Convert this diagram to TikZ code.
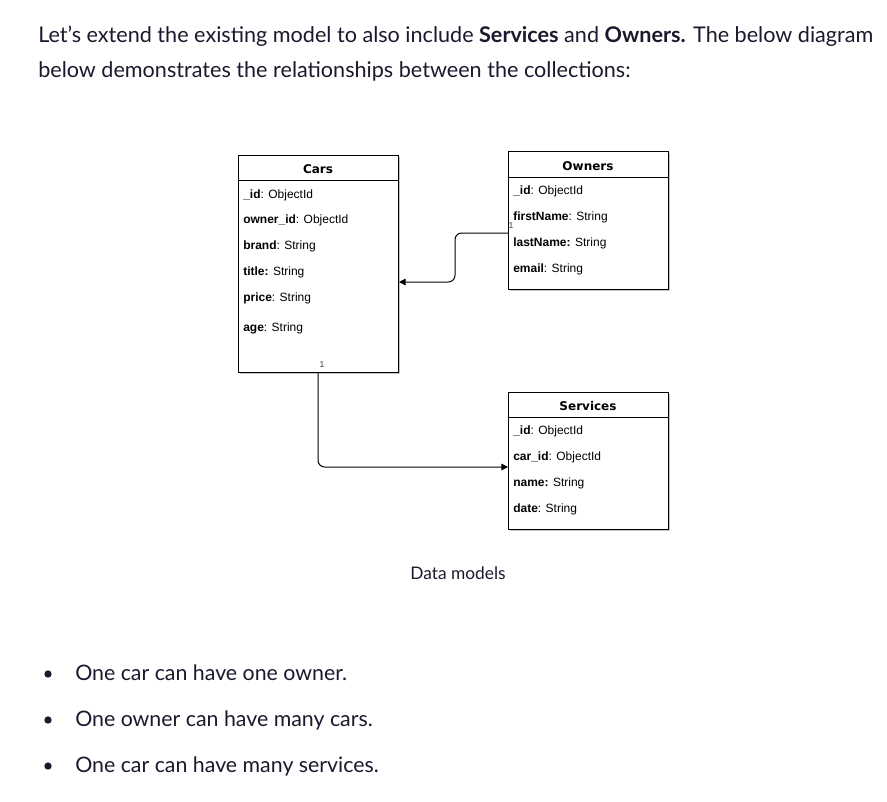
\documentclass[tikz,border=0pt]{standalone}
\usepackage{fontspec}
\setmainfont{Lato}
\newfontfamily\fieldfont{Liberation Sans}
\newfontfamily\headfont{DejaVu Sans}
\usetikzlibrary{positioning,arrows.meta,shadows}
\definecolor{ink}{HTML}{1A1A2E}
\tikzset{
  prose/.style   = {anchor=base west, inner sep=0pt, text=ink, font=\fontsize{16.2}{19}\selectfont},
  item/.style    = {anchor=base west, inner sep=0pt, text=ink, font=\fontsize{16}{19}\selectfont},
  caption/.style = {inner sep=0pt, text=ink, font=\fontsize{13}{15}\selectfont},
  table/.style   = {draw, line width=0.75pt, fill=white, minimum width=120pt,
                    drop shadow={shadow xshift=1.2pt, shadow yshift=-1.5pt, fill=black!45, opacity=0.5}},
  head/.style    = {inner sep=0pt, font=\headfont\bfseries\fontsize{9}{11}\selectfont},
  field/.style   = {anchor=west, inner sep=0pt, font=\fieldfont\fontsize{9}{11}\selectfont},
  card/.style    = {inner sep=0pt, text=black!75, font=\fieldfont\fontsize{6.5}{8}\selectfont},
  rel/.style     = {-{Triangle[length=5pt,width=5pt]}, line width=0.75pt, rounded corners=5pt},
  dot/.style     = {circle, fill=ink, inner sep=0pt, minimum size=5.5pt},
}

\begin{document}
\begin{tikzpicture}[x=0.75pt, y=-0.75pt]
  \fill[white] (0,0) rectangle (887,801);
  \useasboundingbox (0,0) rectangle (887,801);

  % intro text
  \node[prose] (intro1) at (38,42) {Let’s extend the existing model to also include \textbf{Services} and \textbf{Owners.} The below diagram};
  \node[prose] (intro2) at (38,77) {below demonstrates the relationships between the collections:};

  % Cars
  \node[table, minimum height=162.75pt] (cars) at (318,263.5) {};
  \draw[line width=0.75pt] (cars.north west) ++(0,26) -- ++(160,0);
  \node[head] (carshead) at (318,169) {Cars};
  \node[field] (c1) at (243,195) {\textbf{\_id}: ObjectId};
  \node[field] (c2) at (243,220) {\textbf{owner\_id}: ObjectId};
  \node[field] (c3) at (243,246) {\textbf{brand}: String};
  \node[field] (c4) at (243,272) {\textbf{title:} String};
  \node[field] (c5) at (243,298) {\textbf{price}: String};
  \node[field] (c6) at (243,328) {\textbf{age}: String};

  % Owners
  \node[table, minimum height=103.5pt] (owners) at (588,220) {};
  \draw[line width=0.75pt] (owners.north west) ++(0,27) -- ++(160,0);
  \node[head] (ownershead) at (588,166) {Owners};
  \node[field] (o1) at (513,191) {\textbf{\_id}: ObjectId};
  \node[field] (o2) at (513,217) {\textbf{firstName}: String};
  \node[field] (o3) at (513,243) {\textbf{lastName:} String};
  \node[field] (o4) at (513,269) {\textbf{email}: String};

  % Services
  \node[table, minimum height=102.75pt] (services) at (588,460.5) {};
  \draw[line width=0.75pt] (services.north west) ++(0,26) -- ++(160,0);
  \node[head] (serviceshead) at (588,406) {Services};
  \node[field] (s1) at (513,431) {\textbf{\_id}: ObjectId};
  \node[field] (s2) at (513,457) {\textbf{car\_id}: ObjectId};
  \node[field] (s3) at (513,483) {\textbf{name:} String};
  \node[field] (s4) at (513,509) {\textbf{date}: String};

  % relations
  \coordinate (ownout) at (508,233);
  \coordinate (carin) at (399,282);
  \coordinate (srvin) at (508,467);
  \draw[rel] (ownout) -- ++(-53,0) |- (carin);
  \draw[rel] (cars.south) |- (srvin);
  \node[card] (one1) at (322,365) {1};
  \node[card] (one2) at (511,226) {1};

  \node[caption] (cap) at (458,573) {Data models};

  % bullets
  \node[dot] (b1) at (48,674) {};
  \node[dot] (b2) at (48,720) {};
  \node[dot] (b3) at (48,766) {};
  \node[item] (t1) at (75,680) {One car can have one owner.};
  \node[item] (t2) at (75,726) {One owner can have many cars.};
  \node[item] (t3) at (75,772) {One car can have many services.};
\end{tikzpicture}
\end{document}
